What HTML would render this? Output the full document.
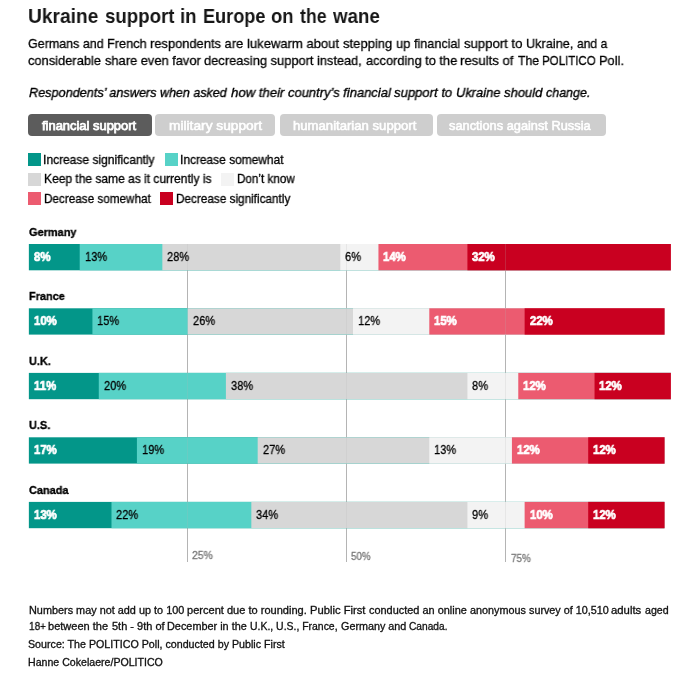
<!DOCTYPE html>
<html><head><meta charset="utf-8"><style>
html,body{margin:0;padding:0;background:#fff;width:696px;height:677px;overflow:hidden}
.t{position:absolute;white-space:nowrap;line-height:1;font-family:"Liberation Sans",sans-serif;transform-origin:0 0;will-change:transform}
.t[style*="weight:normal"]{-webkit-text-stroke:0.3px currentColor}
.r{position:absolute}
svg{position:absolute;left:0;top:0}
</style></head><body>
<svg width="696" height="677" viewBox="0 0 696 677"><rect x="187.00" y="244" width="1" height="318" fill="#b4b4b4"/><rect x="346.00" y="244" width="1" height="318" fill="#b4b4b4"/><rect x="505.00" y="244" width="1" height="318" fill="#b4b4b4"/><rect x="28.86" y="244.0" width="641.96" height="26.3" fill="#039689"/><rect x="79.71" y="244.0" width="591.11" height="26.3" fill="#57d2c7"/><rect x="162.34" y="244.0" width="508.48" height="26.3" fill="#d7d7d7"/><rect x="340.30" y="244.0" width="330.51" height="26.3" fill="#f3f3f3"/><rect x="378.44" y="244.0" width="292.38" height="26.3" fill="#ec5b70"/><rect x="467.42" y="244.0" width="203.39" height="26.3" fill="#c90020"/><rect x="28.86" y="308.3" width="635.60" height="26.3" fill="#039689"/><rect x="92.42" y="308.3" width="572.04" height="26.3" fill="#57d2c7"/><rect x="187.76" y="308.3" width="476.70" height="26.3" fill="#d7d7d7"/><rect x="353.02" y="308.3" width="311.44" height="26.3" fill="#f3f3f3"/><rect x="429.29" y="308.3" width="235.17" height="26.3" fill="#ec5b70"/><rect x="524.63" y="308.3" width="139.83" height="26.3" fill="#c90020"/><rect x="28.86" y="372.9" width="641.96" height="26.3" fill="#039689"/><rect x="98.78" y="372.9" width="572.04" height="26.3" fill="#57d2c7"/><rect x="225.90" y="372.9" width="444.92" height="26.3" fill="#d7d7d7"/><rect x="467.42" y="372.9" width="203.39" height="26.3" fill="#f3f3f3"/><rect x="518.27" y="372.9" width="152.54" height="26.3" fill="#ec5b70"/><rect x="594.54" y="372.9" width="76.27" height="26.3" fill="#c90020"/><rect x="28.86" y="437.3" width="635.60" height="26.3" fill="#039689"/><rect x="136.91" y="437.3" width="527.55" height="26.3" fill="#57d2c7"/><rect x="257.68" y="437.3" width="406.78" height="26.3" fill="#d7d7d7"/><rect x="429.29" y="437.3" width="235.17" height="26.3" fill="#f3f3f3"/><rect x="511.92" y="437.3" width="152.54" height="26.3" fill="#ec5b70"/><rect x="588.19" y="437.3" width="76.27" height="26.3" fill="#c90020"/><rect x="28.86" y="501.9" width="635.60" height="26.3" fill="#039689"/><rect x="111.49" y="501.9" width="552.97" height="26.3" fill="#57d2c7"/><rect x="251.32" y="501.9" width="413.14" height="26.3" fill="#d7d7d7"/><rect x="467.42" y="501.9" width="197.04" height="26.3" fill="#f3f3f3"/><rect x="524.63" y="501.9" width="139.83" height="26.3" fill="#ec5b70"/><rect x="588.19" y="501.9" width="76.27" height="26.3" fill="#c90020"/><rect x="187.00" y="244" width="1" height="318" fill="#b4b4b4" fill-opacity="0.2"/><rect x="346.00" y="244" width="1" height="318" fill="#b4b4b4" fill-opacity="0.2"/><rect x="505.00" y="244" width="1" height="318" fill="#b4b4b4" fill-opacity="0.2"/></svg>
<div class="t" style="left:28.10px;top:5.89px;font-size:20.80px;font-weight:bold;font-style:normal;color:#161616;transform:scaleX(0.9219);">Ukraine</div>
<div class="t" style="left:105.25px;top:5.89px;font-size:20.80px;font-weight:bold;font-style:normal;color:#161616;transform:scaleX(0.8974);">support</div>
<div class="t" style="left:180.10px;top:5.89px;font-size:20.80px;font-weight:bold;font-style:normal;color:#161616;transform:scaleX(0.8949);">in</div>
<div class="t" style="left:202.78px;top:5.89px;font-size:20.80px;font-weight:bold;font-style:normal;color:#161616;transform:scaleX(0.8724);">Europe</div>
<div class="t" style="left:270.86px;top:5.89px;font-size:20.80px;font-weight:bold;font-style:normal;color:#161616;transform:scaleX(0.8843);">on</div>
<div class="t" style="left:300.28px;top:5.89px;font-size:20.80px;font-weight:bold;font-style:normal;color:#161616;transform:scaleX(0.8492);">the</div>
<div class="t" style="left:332.65px;top:5.89px;font-size:20.80px;font-weight:bold;font-style:normal;color:#161616;transform:scaleX(0.8993);">wane</div>
<div class="t" style="left:27.98px;top:36.78px;font-size:13.60px;font-weight:normal;font-style:normal;color:#000000;transform:scaleX(0.9187);">Germans and</div>
<div class="t" style="left:107.15px;top:36.78px;font-size:13.60px;font-weight:normal;font-style:normal;color:#000000;transform:scaleX(0.9365);">French</div>
<div class="t" style="left:150.33px;top:36.78px;font-size:13.60px;font-weight:normal;font-style:normal;color:#000000;transform:scaleX(0.9483);">respondents are</div>
<div class="t" style="left:247.12px;top:36.78px;font-size:13.60px;font-weight:normal;font-style:normal;color:#000000;transform:scaleX(0.9593);">lukewarm about</div>
<div class="t" style="left:342.84px;top:36.78px;font-size:13.60px;font-weight:normal;font-style:normal;color:#000000;transform:scaleX(0.9590);">stepping up</div>
<div class="t" style="left:413.91px;top:36.78px;font-size:13.60px;font-weight:normal;font-style:normal;color:#000000;transform:scaleX(0.9283);">financial</div>
<div class="t" style="left:463.74px;top:36.78px;font-size:13.60px;font-weight:normal;font-style:normal;color:#000000;transform:scaleX(0.9660);">support to</div>
<div class="t" style="left:525.81px;top:36.78px;font-size:13.60px;font-weight:normal;font-style:normal;color:#000000;transform:scaleX(0.9347);">Ukraine,</div>
<div class="t" style="left:576.69px;top:36.78px;font-size:13.60px;font-weight:normal;font-style:normal;color:#000000;transform:scaleX(0.8907);">and a</div>
<div class="t" style="left:28.05px;top:53.68px;font-size:13.60px;font-weight:normal;font-style:normal;color:#000000;transform:scaleX(0.9468);">considerable</div>
<div class="t" style="left:104.65px;top:53.68px;font-size:13.60px;font-weight:normal;font-style:normal;color:#000000;transform:scaleX(0.9460);">share even favor</div>
<div class="t" style="left:204.05px;top:53.68px;font-size:13.60px;font-weight:normal;font-style:normal;color:#000000;transform:scaleX(0.9475);">decreasing support</div>
<div class="t" style="left:317.24px;top:53.68px;font-size:13.60px;font-weight:normal;font-style:normal;color:#000000;transform:scaleX(0.9398);">instead,</div>
<div class="t" style="left:365.55px;top:53.68px;font-size:13.60px;font-weight:normal;font-style:normal;color:#000000;transform:scaleX(0.9433);">according to the</div>
<div class="t" style="left:460.41px;top:53.68px;font-size:13.60px;font-weight:normal;font-style:normal;color:#000000;transform:scaleX(0.9704);">results of</div>
<div class="t" style="left:517.62px;top:53.68px;font-size:13.60px;font-weight:normal;font-style:normal;color:#000000;transform:scaleX(0.9049);">The</div>
<div class="t" style="left:542.25px;top:53.68px;font-size:13.60px;font-weight:normal;font-style:normal;color:#000000;transform:scaleX(0.8474);">POLITICO</div>
<div class="t" style="left:599.24px;top:53.68px;font-size:13.60px;font-weight:normal;font-style:normal;color:#000000;transform:scaleX(0.9417);">Poll.</div>
<div class="t" style="left:29.32px;top:85.95px;font-size:13.40px;font-weight:normal;font-style:italic;color:#000000;transform:scaleX(0.9466);-webkit-text-stroke:0.35px #000">Respondents’ answers</div>
<div class="t" style="left:160.47px;top:85.95px;font-size:13.40px;font-weight:normal;font-style:italic;color:#000000;transform:scaleX(0.9329);-webkit-text-stroke:0.35px #000">when asked</div>
<div class="t" style="left:230.67px;top:85.95px;font-size:13.40px;font-weight:normal;font-style:italic;color:#000000;transform:scaleX(0.9830);-webkit-text-stroke:0.35px #000">how their</div>
<div class="t" style="left:287.78px;top:85.95px;font-size:13.40px;font-weight:normal;font-style:italic;color:#000000;transform:scaleX(0.9682);-webkit-text-stroke:0.35px #000">country’s financial</div>
<div class="t" style="left:394.27px;top:85.95px;font-size:13.40px;font-weight:normal;font-style:italic;color:#000000;transform:scaleX(0.9770);-webkit-text-stroke:0.35px #000">support to</div>
<div class="t" style="left:456.13px;top:85.95px;font-size:13.40px;font-weight:normal;font-style:italic;color:#000000;transform:scaleX(0.9627);-webkit-text-stroke:0.35px #000">Ukraine</div>
<div class="t" style="left:504.17px;top:85.95px;font-size:13.40px;font-weight:normal;font-style:italic;color:#000000;transform:scaleX(0.9726);-webkit-text-stroke:0.35px #000">should</div>
<div class="t" style="left:546.20px;top:85.95px;font-size:13.40px;font-weight:normal;font-style:italic;color:#000000;transform:scaleX(0.9300);-webkit-text-stroke:0.35px #000">change.</div>
<div class="r" style="left:28px;top:114px;width:124px;height:22px;background:#5c5c5c;border-radius:4px;"></div>
<div class="t" style="left:42.41px;top:119.77px;font-size:12.20px;font-weight:normal;font-style:normal;color:#ffffff;transform:scaleX(1.0602);-webkit-text-stroke:0.75px #fff">financial support</div>
<div class="r" style="left:155px;top:114px;width:120px;height:22px;background:#cecece;border-radius:4px;"></div>
<div class="t" style="left:168.87px;top:119.77px;font-size:12.20px;font-weight:normal;font-style:normal;color:#ffffff;transform:scaleX(1.1271);-webkit-text-stroke:0.55px #fff">military support</div>
<div class="r" style="left:280px;top:114px;width:153px;height:22px;background:#cecece;border-radius:4px;"></div>
<div class="t" style="left:293.48px;top:119.77px;font-size:12.20px;font-weight:normal;font-style:normal;color:#ffffff;transform:scaleX(1.0768);-webkit-text-stroke:0.55px #fff">humanitarian support</div>
<div class="r" style="left:437px;top:114px;width:169px;height:22px;background:#cecece;border-radius:4px;"></div>
<div class="t" style="left:449.25px;top:119.77px;font-size:12.20px;font-weight:normal;font-style:normal;color:#ffffff;transform:scaleX(1.0505);-webkit-text-stroke:0.55px #fff">sanctions against Russia</div>
<div class="r" style="left:28px;top:153px;width:13px;height:13px;background:#039689;"></div>
<div class="t" style="left:43.39px;top:153.67px;font-size:12.20px;font-weight:normal;font-style:normal;color:#000000;transform:scaleX(0.9858);">Increase significantly</div>
<div class="r" style="left:165px;top:153px;width:13px;height:13px;background:#57d2c7;"></div>
<div class="t" style="left:179.69px;top:153.67px;font-size:12.20px;font-weight:normal;font-style:normal;color:#000000;transform:scaleX(0.9794);">Increase somewhat</div>
<div class="r" style="left:28px;top:173px;width:13px;height:13px;background:#d7d7d7;"></div>
<div class="t" style="left:43.51px;top:172.67px;font-size:12.20px;font-weight:normal;font-style:normal;color:#000000;transform:scaleX(0.9849);">Keep the same as it currently is</div>
<div class="r" style="left:221px;top:173px;width:13px;height:13px;background:#f3f3f3;"></div>
<div class="t" style="left:236.84px;top:172.67px;font-size:12.20px;font-weight:normal;font-style:normal;color:#000000;transform:scaleX(0.9582);">Don’t know</div>
<div class="r" style="left:28px;top:192px;width:13px;height:13px;background:#ec5b70;"></div>
<div class="t" style="left:43.53px;top:192.87px;font-size:12.20px;font-weight:normal;font-style:normal;color:#000000;transform:scaleX(0.9609);">Decrease somewhat</div>
<div class="r" style="left:160px;top:192px;width:13px;height:13px;background:#c90020;"></div>
<div class="t" style="left:175.63px;top:192.87px;font-size:12.20px;font-weight:normal;font-style:normal;color:#000000;transform:scaleX(0.9640);">Decrease significantly</div>
<div class="t" style="left:29.46px;top:226.81px;font-size:11.80px;font-weight:bold;font-style:normal;color:#000;transform:scaleX(0.9285);-webkit-text-stroke:0.35px #000">Germany</div>
<div class="t" style="left:29.16px;top:291.11px;font-size:11.80px;font-weight:bold;font-style:normal;color:#000;transform:scaleX(0.9285);-webkit-text-stroke:0.35px #000">France</div>
<div class="t" style="left:29.24px;top:355.91px;font-size:11.80px;font-weight:bold;font-style:normal;color:#000;transform:scaleX(0.9285);-webkit-text-stroke:0.35px #000">U.K.</div>
<div class="t" style="left:29.24px;top:419.91px;font-size:11.80px;font-weight:bold;font-style:normal;color:#000;transform:scaleX(0.9285);-webkit-text-stroke:0.35px #000">U.S.</div>
<div class="t" style="left:29.46px;top:484.91px;font-size:11.80px;font-weight:bold;font-style:normal;color:#000;transform:scaleX(0.9285);-webkit-text-stroke:0.35px #000">Canada</div>
<div class="t" style="left:33.76px;top:250.88px;font-size:12.90px;font-weight:bold;font-style:normal;color:#ffffff;transform:scaleX(0.8814);-webkit-text-stroke:0.7px #fff">8%</div>
<div class="t" style="left:84.61px;top:250.88px;font-size:12.90px;font-weight:normal;font-style:normal;color:#000000;transform:scaleX(0.8582);">13%</div>
<div class="t" style="left:167.24px;top:250.88px;font-size:12.90px;font-weight:normal;font-style:normal;color:#000000;transform:scaleX(0.8582);">28%</div>
<div class="t" style="left:345.20px;top:250.88px;font-size:12.90px;font-weight:normal;font-style:normal;color:#000000;transform:scaleX(0.8582);">6%</div>
<div class="t" style="left:383.34px;top:250.88px;font-size:12.90px;font-weight:bold;font-style:normal;color:#ffffff;transform:scaleX(0.8814);-webkit-text-stroke:0.7px #fff">14%</div>
<div class="t" style="left:472.32px;top:250.88px;font-size:12.90px;font-weight:bold;font-style:normal;color:#ffffff;transform:scaleX(0.8814);-webkit-text-stroke:0.7px #fff">32%</div>
<div class="t" style="left:33.76px;top:315.18px;font-size:12.90px;font-weight:bold;font-style:normal;color:#ffffff;transform:scaleX(0.8814);-webkit-text-stroke:0.7px #fff">10%</div>
<div class="t" style="left:97.32px;top:315.18px;font-size:12.90px;font-weight:normal;font-style:normal;color:#000000;transform:scaleX(0.8582);">15%</div>
<div class="t" style="left:192.66px;top:315.18px;font-size:12.90px;font-weight:normal;font-style:normal;color:#000000;transform:scaleX(0.8582);">26%</div>
<div class="t" style="left:357.92px;top:315.18px;font-size:12.90px;font-weight:normal;font-style:normal;color:#000000;transform:scaleX(0.8582);">12%</div>
<div class="t" style="left:434.19px;top:315.18px;font-size:12.90px;font-weight:bold;font-style:normal;color:#ffffff;transform:scaleX(0.8814);-webkit-text-stroke:0.7px #fff">15%</div>
<div class="t" style="left:529.53px;top:315.18px;font-size:12.90px;font-weight:bold;font-style:normal;color:#ffffff;transform:scaleX(0.8814);-webkit-text-stroke:0.7px #fff">22%</div>
<div class="t" style="left:33.76px;top:379.78px;font-size:12.90px;font-weight:bold;font-style:normal;color:#ffffff;transform:scaleX(0.8814);-webkit-text-stroke:0.7px #fff">11%</div>
<div class="t" style="left:103.68px;top:379.78px;font-size:12.90px;font-weight:normal;font-style:normal;color:#000000;transform:scaleX(0.8582);">20%</div>
<div class="t" style="left:230.80px;top:379.78px;font-size:12.90px;font-weight:normal;font-style:normal;color:#000000;transform:scaleX(0.8582);">38%</div>
<div class="t" style="left:472.32px;top:379.78px;font-size:12.90px;font-weight:normal;font-style:normal;color:#000000;transform:scaleX(0.8582);">8%</div>
<div class="t" style="left:523.17px;top:379.78px;font-size:12.90px;font-weight:bold;font-style:normal;color:#ffffff;transform:scaleX(0.8814);-webkit-text-stroke:0.7px #fff">12%</div>
<div class="t" style="left:599.44px;top:379.78px;font-size:12.90px;font-weight:bold;font-style:normal;color:#ffffff;transform:scaleX(0.8814);-webkit-text-stroke:0.7px #fff">12%</div>
<div class="t" style="left:33.76px;top:444.18px;font-size:12.90px;font-weight:bold;font-style:normal;color:#ffffff;transform:scaleX(0.8814);-webkit-text-stroke:0.7px #fff">17%</div>
<div class="t" style="left:141.81px;top:444.18px;font-size:12.90px;font-weight:normal;font-style:normal;color:#000000;transform:scaleX(0.8582);">19%</div>
<div class="t" style="left:262.58px;top:444.18px;font-size:12.90px;font-weight:normal;font-style:normal;color:#000000;transform:scaleX(0.8582);">27%</div>
<div class="t" style="left:434.19px;top:444.18px;font-size:12.90px;font-weight:normal;font-style:normal;color:#000000;transform:scaleX(0.8582);">13%</div>
<div class="t" style="left:516.82px;top:444.18px;font-size:12.90px;font-weight:bold;font-style:normal;color:#ffffff;transform:scaleX(0.8814);-webkit-text-stroke:0.7px #fff">12%</div>
<div class="t" style="left:593.09px;top:444.18px;font-size:12.90px;font-weight:bold;font-style:normal;color:#ffffff;transform:scaleX(0.8814);-webkit-text-stroke:0.7px #fff">12%</div>
<div class="t" style="left:33.76px;top:508.78px;font-size:12.90px;font-weight:bold;font-style:normal;color:#ffffff;transform:scaleX(0.8814);-webkit-text-stroke:0.7px #fff">13%</div>
<div class="t" style="left:116.39px;top:508.78px;font-size:12.90px;font-weight:normal;font-style:normal;color:#000000;transform:scaleX(0.8582);">22%</div>
<div class="t" style="left:256.22px;top:508.78px;font-size:12.90px;font-weight:normal;font-style:normal;color:#000000;transform:scaleX(0.8582);">34%</div>
<div class="t" style="left:472.32px;top:508.78px;font-size:12.90px;font-weight:normal;font-style:normal;color:#000000;transform:scaleX(0.8582);">9%</div>
<div class="t" style="left:529.53px;top:508.78px;font-size:12.90px;font-weight:bold;font-style:normal;color:#ffffff;transform:scaleX(0.8814);-webkit-text-stroke:0.7px #fff">10%</div>
<div class="t" style="left:593.09px;top:508.78px;font-size:12.90px;font-weight:bold;font-style:normal;color:#ffffff;transform:scaleX(0.8814);-webkit-text-stroke:0.7px #fff">12%</div>
<div class="t" style="left:192.28px;top:549.66px;font-size:10.80px;font-weight:normal;font-style:normal;color:#787878;transform:scaleX(0.9622);">25%</div>
<div class="t" style="left:351.21px;top:550.96px;font-size:10.80px;font-weight:normal;font-style:normal;color:#787878;transform:scaleX(0.9091);">50%</div>
<div class="t" style="left:511.08px;top:552.76px;font-size:10.80px;font-weight:normal;font-style:normal;color:#787878;transform:scaleX(0.9150);">75%</div>
<div class="t" style="left:28.50px;top:605.56px;font-size:10.20px;font-weight:normal;font-style:normal;color:#111;transform:scaleX(1.0668);">Numbers may not add up to 100</div>
<div class="t" style="left:186.98px;top:605.56px;font-size:10.20px;font-weight:normal;font-style:normal;color:#111;transform:scaleX(1.0844);">percent due to rounding.</div>
<div class="t" style="left:309.97px;top:605.56px;font-size:10.20px;font-weight:normal;font-style:normal;color:#111;transform:scaleX(1.1010);">Public First</div>
<div class="t" style="left:368.63px;top:605.56px;font-size:10.20px;font-weight:normal;font-style:normal;color:#111;transform:scaleX(1.0729);">conducted an online</div>
<div class="t" style="left:469.64px;top:605.56px;font-size:10.20px;font-weight:normal;font-style:normal;color:#111;transform:scaleX(1.0611);">anonymous</div>
<div class="t" style="left:528.60px;top:605.56px;font-size:10.20px;font-weight:normal;font-style:normal;color:#111;transform:scaleX(1.0583);">survey of 10,510</div>
<div class="t" style="left:611.42px;top:605.56px;font-size:10.20px;font-weight:normal;font-style:normal;color:#111;transform:scaleX(1.1124);">adults</div>
<div class="t" style="left:644.85px;top:605.56px;font-size:10.20px;font-weight:normal;font-style:normal;color:#111;transform:scaleX(1.0417);">aged</div>
<div class="t" style="left:28.65px;top:621.96px;font-size:10.20px;font-weight:normal;font-style:normal;color:#111;transform:scaleX(0.9799);">18+</div>
<div class="t" style="left:48.38px;top:621.96px;font-size:10.20px;font-weight:normal;font-style:normal;color:#111;transform:scaleX(1.0833);">between the</div>
<div class="t" style="left:111.66px;top:621.96px;font-size:10.20px;font-weight:normal;font-style:normal;color:#111;transform:scaleX(1.0803);">5th - 9th of</div>
<div class="t" style="left:167.40px;top:621.96px;font-size:10.20px;font-weight:normal;font-style:normal;color:#111;transform:scaleX(1.0671);">December in the</div>
<div class="t" style="left:250.29px;top:621.96px;font-size:10.20px;font-weight:normal;font-style:normal;color:#111;transform:scaleX(1.0242);">U.K., U.S., France,</div>
<div class="t" style="left:340.86px;top:621.96px;font-size:10.20px;font-weight:normal;font-style:normal;color:#111;transform:scaleX(1.0588);">Germany and</div>
<div class="t" style="left:409.29px;top:621.96px;font-size:10.20px;font-weight:normal;font-style:normal;color:#111;transform:scaleX(0.9966);">Canada.</div>
<div class="t" style="left:28.42px;top:639.66px;font-size:10.20px;font-weight:normal;font-style:normal;color:#111;transform:scaleX(1.0480);">Source: The POLITICO Poll, conducted by Public First</div>
<div class="t" style="left:28.03px;top:657.96px;font-size:10.20px;font-weight:normal;font-style:normal;color:#111;transform:scaleX(1.0397);">Hanne Cokelaere/POLITICO</div>
</body></html>
